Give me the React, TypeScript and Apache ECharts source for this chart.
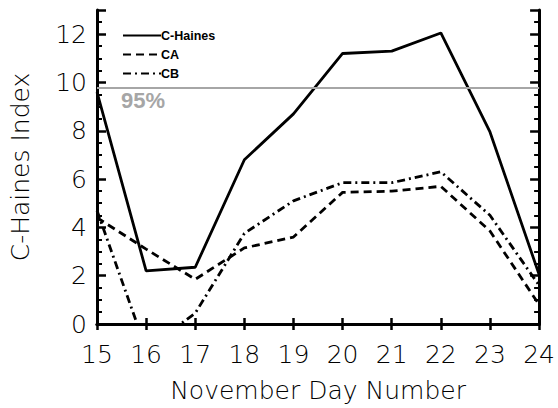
import React, { useEffect, useRef } from "react";
import * as echarts from "echarts";

// November day numbers on the x axis
const days = [15, 16, 17, 18, 19, 20, 21, 22, 23, 24];

// Index values per day
const cHaines = [9.6, 2.2, 2.35, 6.8, 8.7, 11.2, 11.3, 12.05, 7.95, 2.05];
const caValues = [4.4, 3.1, 1.85, 3.15, 3.6, 5.45, 5.5, 5.7, 3.85, 0.8];
const cbValues = [4.7, -1.05, 0.45, 3.75, 5.1, 5.85, 5.85, 6.3, 4.5, 1.6];

// 95th percentile threshold
const threshold = 9.8;
const thresholdLabel = "95%";

const seriesNames = ["C-Haines", "CA", "CB"];

const pair = (vals: number[]) => days.map((d, i) => [d, vals[i]]);

export default function App() {
  const ref = useRef<HTMLDivElement>(null);

  useEffect(() => {
    if (!ref.current) return;
    const chart = echarts.init(ref.current, null, { renderer: "svg" });
    const lightFont = { fontFamily: "DejaVu Sans", fontWeight: 200, color: "#000" };
    const frame = { show: true, lineStyle: { color: "#000", width: 3 } };

    chart.setOption({
      animation: false,
      backgroundColor: "#fff",
      grid: { left: 97, right: 16, top: 10, bottom: 83, containLabel: false },
      legend: {
        orient: "vertical",
        left: 117,
        top: 24,
        itemWidth: 38,
        itemHeight: 10,
        itemGap: 6,
        itemStyle: { opacity: 0 },
        textStyle: {
          fontFamily: "Liberation Sans",
          fontWeight: "bold",
          fontSize: 12.5,
          color: "#000",
          padding: [0, 0, 0, -5],
        },
        data: seriesNames,
      },
      xAxis: [
        {
          type: "value",
          min: 15,
          max: 24,
          interval: 1,
          name: "November Day Number",
          nameLocation: "middle",
          nameGap: 54,
          nameTextStyle: { ...lightFont, fontSize: 25 },
          axisLine: frame,
          axisTick: { show: true, inside: true, length: 6, lineStyle: { color: "#000", width: 2.5 } },
          axisLabel: { ...lightFont, fontSize: 25, margin: 18 },
          splitLine: { show: false },
        },
        {
          type: "value",
          position: "top",
          min: 15,
          max: 24,
          interval: 1,
          axisLine: frame,
          axisTick: { show: true, inside: true, length: 6, lineStyle: { color: "#000", width: 2.5 } },
          axisLabel: { show: false },
          splitLine: { show: false },
        },
      ],
      yAxis: [
        {
          type: "value",
          min: 0,
          max: 13,
          interval: 2,
          name: "C-Haines Index",
          nameLocation: "middle",
          nameGap: 64,
          nameTextStyle: { ...lightFont, fontSize: 25 },
          axisLine: frame,
          axisTick: { show: true, inside: true, length: 9, lineStyle: { color: "#000", width: 2.5 } },
          minorTick: { show: true, splitNumber: 4, length: 5, lineStyle: { color: "#000", width: 2 } },
          axisLabel: { ...lightFont, fontSize: 25, margin: 10, showMaxLabel: false },
          splitLine: { show: false },
        },
        {
          type: "value",
          position: "right",
          min: 0,
          max: 13,
          interval: 2,
          axisLine: frame,
          axisTick: { show: true, inside: true, length: 9, lineStyle: { color: "#000", width: 2.5 } },
          minorTick: { show: true, splitNumber: 4, length: 5, lineStyle: { color: "#000", width: 2 } },
          axisLabel: { show: false },
          splitLine: { show: false },
        },
      ],
      series: [
        {
          name: seriesNames[0],
          type: "line",
          data: pair(cHaines),
          symbol: "none",
          lineStyle: { color: "#000", width: 2.8, type: "solid" },
          itemStyle: { color: "#000" },
          markLine: {
            silent: true,
            symbol: "none",
            lineStyle: { color: "#a6a6a6", width: 2, type: "solid" },
            label: {
              show: true,
              position: "insideStartBottom",
              formatter: thresholdLabel,
              color: "#a6a6a6",
              fontFamily: "Liberation Sans",
              fontWeight: "bold",
              fontSize: 22,
              distance: 2,
              padding: [0, 0, 0, 22],
            },
            data: [{ yAxis: threshold }],
          },
          z: 3,
        },
        {
          name: seriesNames[1],
          type: "line",
          data: pair(caValues),
          symbol: "none",
          lineStyle: { color: "#000", width: 2.8, type: [8, 5] },
          itemStyle: { color: "#000" },
          z: 3,
        },
        {
          name: seriesNames[2],
          type: "line",
          data: pair(cbValues),
          symbol: "none",
          lineStyle: { color: "#000", width: 2.8, type: [8, 4, 2, 4] },
          itemStyle: { color: "#000" },
          z: 3,
        },
      ],
    });

    return () => chart.dispose();
  }, []);

  return <div ref={ref} style={{ width: 558, height: 408, position: "absolute", left: 0, top: 0 }} />;
}
